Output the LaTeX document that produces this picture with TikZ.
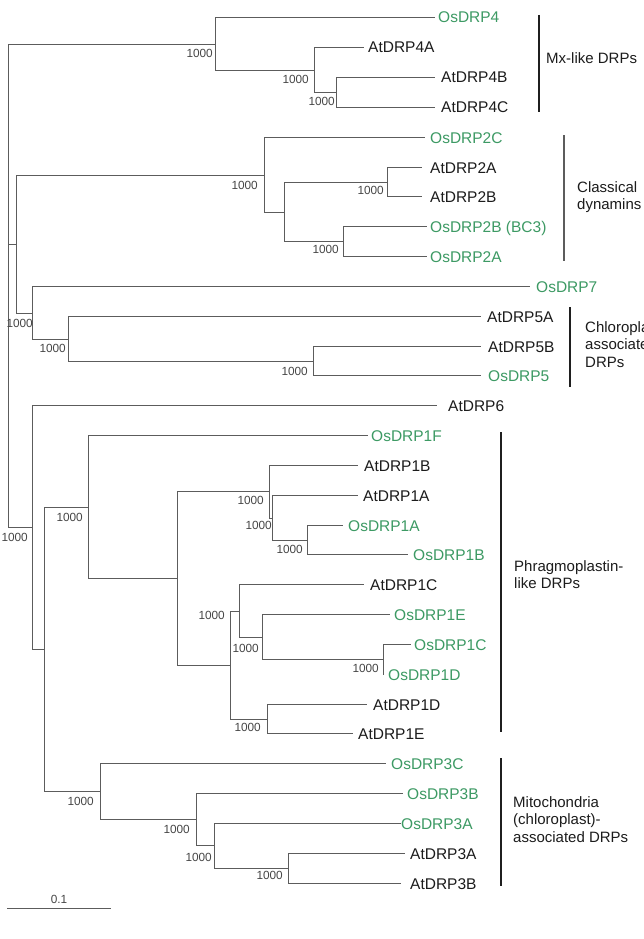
\documentclass[tikz,border=0pt]{standalone}
\usepackage{fontspec}
\setmainfont{Liberation Sans}
\definecolor{osgreen}{RGB}{61,154,100}
\definecolor{linegray}{RGB}{92,92,92}
\definecolor{txt}{RGB}{28,28,28}
\definecolor{boottxt}{RGB}{70,70,70}
\begin{document}
\begin{tikzpicture}[x=1pt,y=-1pt,
  edge/.style={draw=linegray,line width=1.5pt,line cap=rect},
  leafat/.style={anchor=base west,inner sep=0pt,font=\fontsize{15.5}{18}\selectfont,text=txt},
  leafos/.style={leafat,text=osgreen},
  boot/.style={anchor=east,inner sep=0pt,font=\fontsize{11.8}{13}\selectfont,text=boottxt},
  clade/.style={anchor=base west,inner sep=0pt,font=\fontsize{15}{18}\selectfont,text=txt},
  bracket/.style={draw=black!88,line width=2pt},
  bracketgray/.style={draw=linegray,line width=1.6pt}]
\useasboundingbox (0,0) rectangle (643,939);
\clip (0,0) rectangle (643,939);
\fill[white] (0,0) rectangle (643,939);

% ---------- internal nodes ----------
\coordinate (root) at (8.5,285.5);
\coordinate (nMx) at (215.5,44.5);
\coordinate (n314) at (314.5,70.5);
\coordinate (n336) at (336.5,92.5);
\coordinate (n16) at (16.5,244.5);
\coordinate (nCl) at (264.5,175.5);
\coordinate (n284) at (284.5,212.5);
\coordinate (n387) at (387.5,182.5);
\coordinate (n343) at (343.5,241.5);
\coordinate (n33) at (32.5,313.5);
\coordinate (n68) at (68.5,339.5);
\coordinate (n313) at (313.5,361.5);
\coordinate (n32) at (32.5,527.5);
\coordinate (n44) at (44.5,649.5);
\coordinate (n88) at (88.5,507.5);
\coordinate (n177) at (177.5,578.5);
\coordinate (n269) at (269.5,491.5);
\coordinate (n272) at (272.5,518.5);
\coordinate (n307) at (307.5,540.5);
\coordinate (n230) at (230.5,665.5);
\coordinate (n239) at (239.5,611.5);
\coordinate (n262) at (262.5,637.5);
\coordinate (n383) at (383.5,659.5);
\coordinate (n267) at (267.5,719.5);
\coordinate (n100) at (100.5,791.5);
\coordinate (n196) at (196.5,819.5);
\coordinate (n214) at (214.5,845.5);
\coordinate (n288) at (288.5,868.5);

% ---------- leaf ends ----------
\coordinate (L0) at (434,17.5);
\coordinate (L1) at (363,47.5);
\coordinate (L2) at (434,77.5);
\coordinate (L3) at (434,107.5);
\coordinate (L4) at (424,137.5);
\coordinate (L5) at (421,167.5);
\coordinate (L6) at (421,196.5);
\coordinate (L7) at (426,226.5);
\coordinate (L8) at (426,256.5);
\coordinate (L9) at (529,286.5);
\coordinate (L10) at (480,316.5);
\coordinate (L11) at (480,346.5);
\coordinate (L12) at (480,375.5);
\coordinate (L13) at (436,405.5);
\coordinate (L14) at (367,435.5);
\coordinate (L15) at (357,465.5);
\coordinate (L16) at (357,495.5);
\coordinate (L17) at (342,525.5);
\coordinate (L18) at (407,554.5);
\coordinate (L19) at (363,584.5);
\coordinate (L20) at (389,614.5);
\coordinate (L21) at (410,644.5);
\coordinate (L22) at (383.5,674.5);
\coordinate (L23) at (366,704.5);
\coordinate (L24) at (352,733.5);
\coordinate (L25) at (385,763.5);
\coordinate (L26) at (402,793.5);
\coordinate (L27) at (400,823.5);
\coordinate (L28) at (404,853.5);
\coordinate (L29) at (400,883.5);

% ---------- edges ----------
\draw[edge] (root) |- (nMx);
\draw[edge] (root) |- (n16);
\draw[edge] (root) |- (n32);
\draw[edge] (nMx) |- (L0);
\draw[edge] (nMx) |- (n314);
\draw[edge] (n314) |- (L1);
\draw[edge] (n314) |- (n336);
\draw[edge] (n336) |- (L2);
\draw[edge] (n336) |- (L3);
\draw[edge] (n16) |- (nCl);
\draw[edge] (n16) |- (n33);
\draw[edge] (nCl) |- (L4);
\draw[edge] (nCl) |- (n284);
\draw[edge] (n284) |- (n387);
\draw[edge] (n284) |- (n343);
\draw[edge] (n387) |- (L5);
\draw[edge] (n387) |- (L6);
\draw[edge] (n343) |- (L7);
\draw[edge] (n343) |- (L8);
\draw[edge] (n33) |- (L9);
\draw[edge] (n33) |- (n68);
\draw[edge] (n68) |- (L10);
\draw[edge] (n68) |- (n313);
\draw[edge] (n313) |- (L11);
\draw[edge] (n313) |- (L12);
\draw[edge] (n32) |- (L13);
\draw[edge] (n32) |- (n44);
\draw[edge] (n44) |- (n88);
\draw[edge] (n44) |- (n100);
\draw[edge] (n88) |- (L14);
\draw[edge] (n88) |- (n177);
\draw[edge] (n177) |- (n269);
\draw[edge] (n177) |- (n230);
\draw[edge] (n269) |- (L15);
\draw[edge] (n269) |- (n272);
\draw[edge] (n272) |- (L16);
\draw[edge] (n272) |- (n307);
\draw[edge] (n307) |- (L17);
\draw[edge] (n307) |- (L18);
\draw[edge] (n230) |- (n239);
\draw[edge] (n230) |- (n267);
\draw[edge] (n239) |- (L19);
\draw[edge] (n239) |- (n262);
\draw[edge] (n262) |- (L20);
\draw[edge] (n262) |- (n383);
\draw[edge] (n383) |- (L21);
\draw[edge] (n383) |- (L22);
\draw[edge] (n267) |- (L23);
\draw[edge] (n267) |- (L24);
\draw[edge] (n100) |- (L25);
\draw[edge] (n100) |- (n196);
\draw[edge] (n196) |- (L26);
\draw[edge] (n196) |- (n214);
\draw[edge] (n214) |- (L27);
\draw[edge] (n214) |- (n288);
\draw[edge] (n288) |- (L28);
\draw[edge] (n288) |- (L29);

% ---------- leaf labels ----------
\node[leafos] (t0) at (438,23) {OsDRP4};
\node[leafat] (t1) at (368,53) {AtDRP4A};
\node[leafat] (t2) at (441,83) {AtDRP4B};
\node[leafat] (t3) at (441,113) {AtDRP4C};
\node[leafos] (t4) at (430,143) {OsDRP2C};
\node[leafat] (t5) at (430,173) {AtDRP2A};
\node[leafat] (t6) at (430,202) {AtDRP2B};
\node[leafos] (t7) at (430,232) {OsDRP2B (BC3)};
\node[leafos] (t8) at (430,262) {OsDRP2A};
\node[leafos] (t9) at (536,292) {OsDRP7};
\node[leafat] (t10) at (487,322) {AtDRP5A};
\node[leafat] (t11) at (488,352) {AtDRP5B};
\node[leafos] (t12) at (488,381) {OsDRP5};
\node[leafat] (t13) at (448,411) {AtDRP6};
\node[leafos] (t14) at (371,441) {OsDRP1F};
\node[leafat] (t15) at (364,471) {AtDRP1B};
\node[leafat] (t16) at (363,501) {AtDRP1A};
\node[leafos] (t17) at (348,531) {OsDRP1A};
\node[leafos] (t18) at (413,560) {OsDRP1B};
\node[leafat] (t19) at (370,590) {AtDRP1C};
\node[leafos] (t20) at (394,620) {OsDRP1E};
\node[leafos] (t21) at (414,650) {OsDRP1C};
\node[leafos] (t22) at (388,680) {OsDRP1D};
\node[leafat] (t23) at (373,710) {AtDRP1D};
\node[leafat] (t24) at (358,739) {AtDRP1E};
\node[leafos] (t25) at (391,769) {OsDRP3C};
\node[leafos] (t26) at (407,799) {OsDRP3B};
\node[leafos] (t27) at (401,829) {OsDRP3A};
\node[leafat] (t28) at (410,859) {AtDRP3A};
\node[leafat] (t29) at (410,889) {AtDRP3B};

% ---------- bootstrap values ----------
\node[boot] (bMx) at (213,53) {1000};
\node[boot] (b314) at (309,79) {1000};
\node[boot] (b336) at (335,101) {1000};
\node[boot] (bCl) at (258,185) {1000};
\node[boot] (b387) at (384,190) {1000};
\node[boot] (b343) at (339,249) {1000};
\node[boot] (b33) at (33,323) {1000};
\node[boot] (b68) at (66,348) {1000};
\node[boot] (b313) at (308,371) {1000};
\node[boot] (b32) at (28,537) {1000};
\node[boot] (b88) at (83,517) {1000};
\node[boot] (b269) at (264,500) {1000};
\node[boot] (b272) at (272,525) {1000};
\node[boot] (b307) at (303,549) {1000};
\node[boot] (b239) at (225,615) {1000};
\node[boot] (b262) at (259,648) {1000};
\node[boot] (b383) at (379,668) {1000};
\node[boot] (b267) at (261,727) {1000};
\node[boot] (b100) at (94,801) {1000};
\node[boot] (b196) at (190,829) {1000};
\node[boot] (b214) at (212,857) {1000};
\node[boot] (b288) at (283,875) {1000};

% ---------- clade brackets ----------
\coordinate (mxT) at (539,15);  \coordinate (mxB) at (539,112);
\coordinate (clT) at (564,135); \coordinate (clB) at (564,261);
\coordinate (chT) at (570,307); \coordinate (chB) at (570,387);
\coordinate (phT) at (501,432); \coordinate (phB) at (501,732);
\coordinate (miT) at (501,758); \coordinate (miB) at (501,886);
\draw[bracket] (mxT) -- (mxB);
\draw[bracketgray] (clT) -- (clB);
\draw[bracket] (chT) -- (chB);
\draw[bracket] (phT) -- (phB);
\draw[bracket] (miT) -- (miB);

\node[clade] (cMx) at (546,63.4) {Mx-like DRPs};
\node[clade] (cCl1) at (577,192.4) {Classical};
\node[clade] (cCl2) at (577,209.0) {dynamins};
\node[clade] (cCh1) at (585,332.4) {Chloroplast-};
\node[clade] (cCh2) at (585,349.6) {associated};
\node[clade] (cCh3) at (585,367.0) {DRPs};
\node[clade] (cPh1) at (514,571.4) {Phragmoplastin-};
\node[clade] (cPh2) at (514,588.6) {like DRPs};
\node[clade] (cMi1) at (513,807.4) {Mitochondria};
\node[clade] (cMi2) at (513,824.8) {(chloroplast)-};
\node[clade] (cMi3) at (513,842.2) {associated DRPs};

% ---------- scale bar ----------
\coordinate (sbL) at (8,908.5);
\coordinate (sbR) at (110,908.5);
\draw[edge] (sbL) -- (sbR);
\node[boot,anchor=center] (sbT) at (59,899) {0.1};
\end{tikzpicture}
\end{document}
